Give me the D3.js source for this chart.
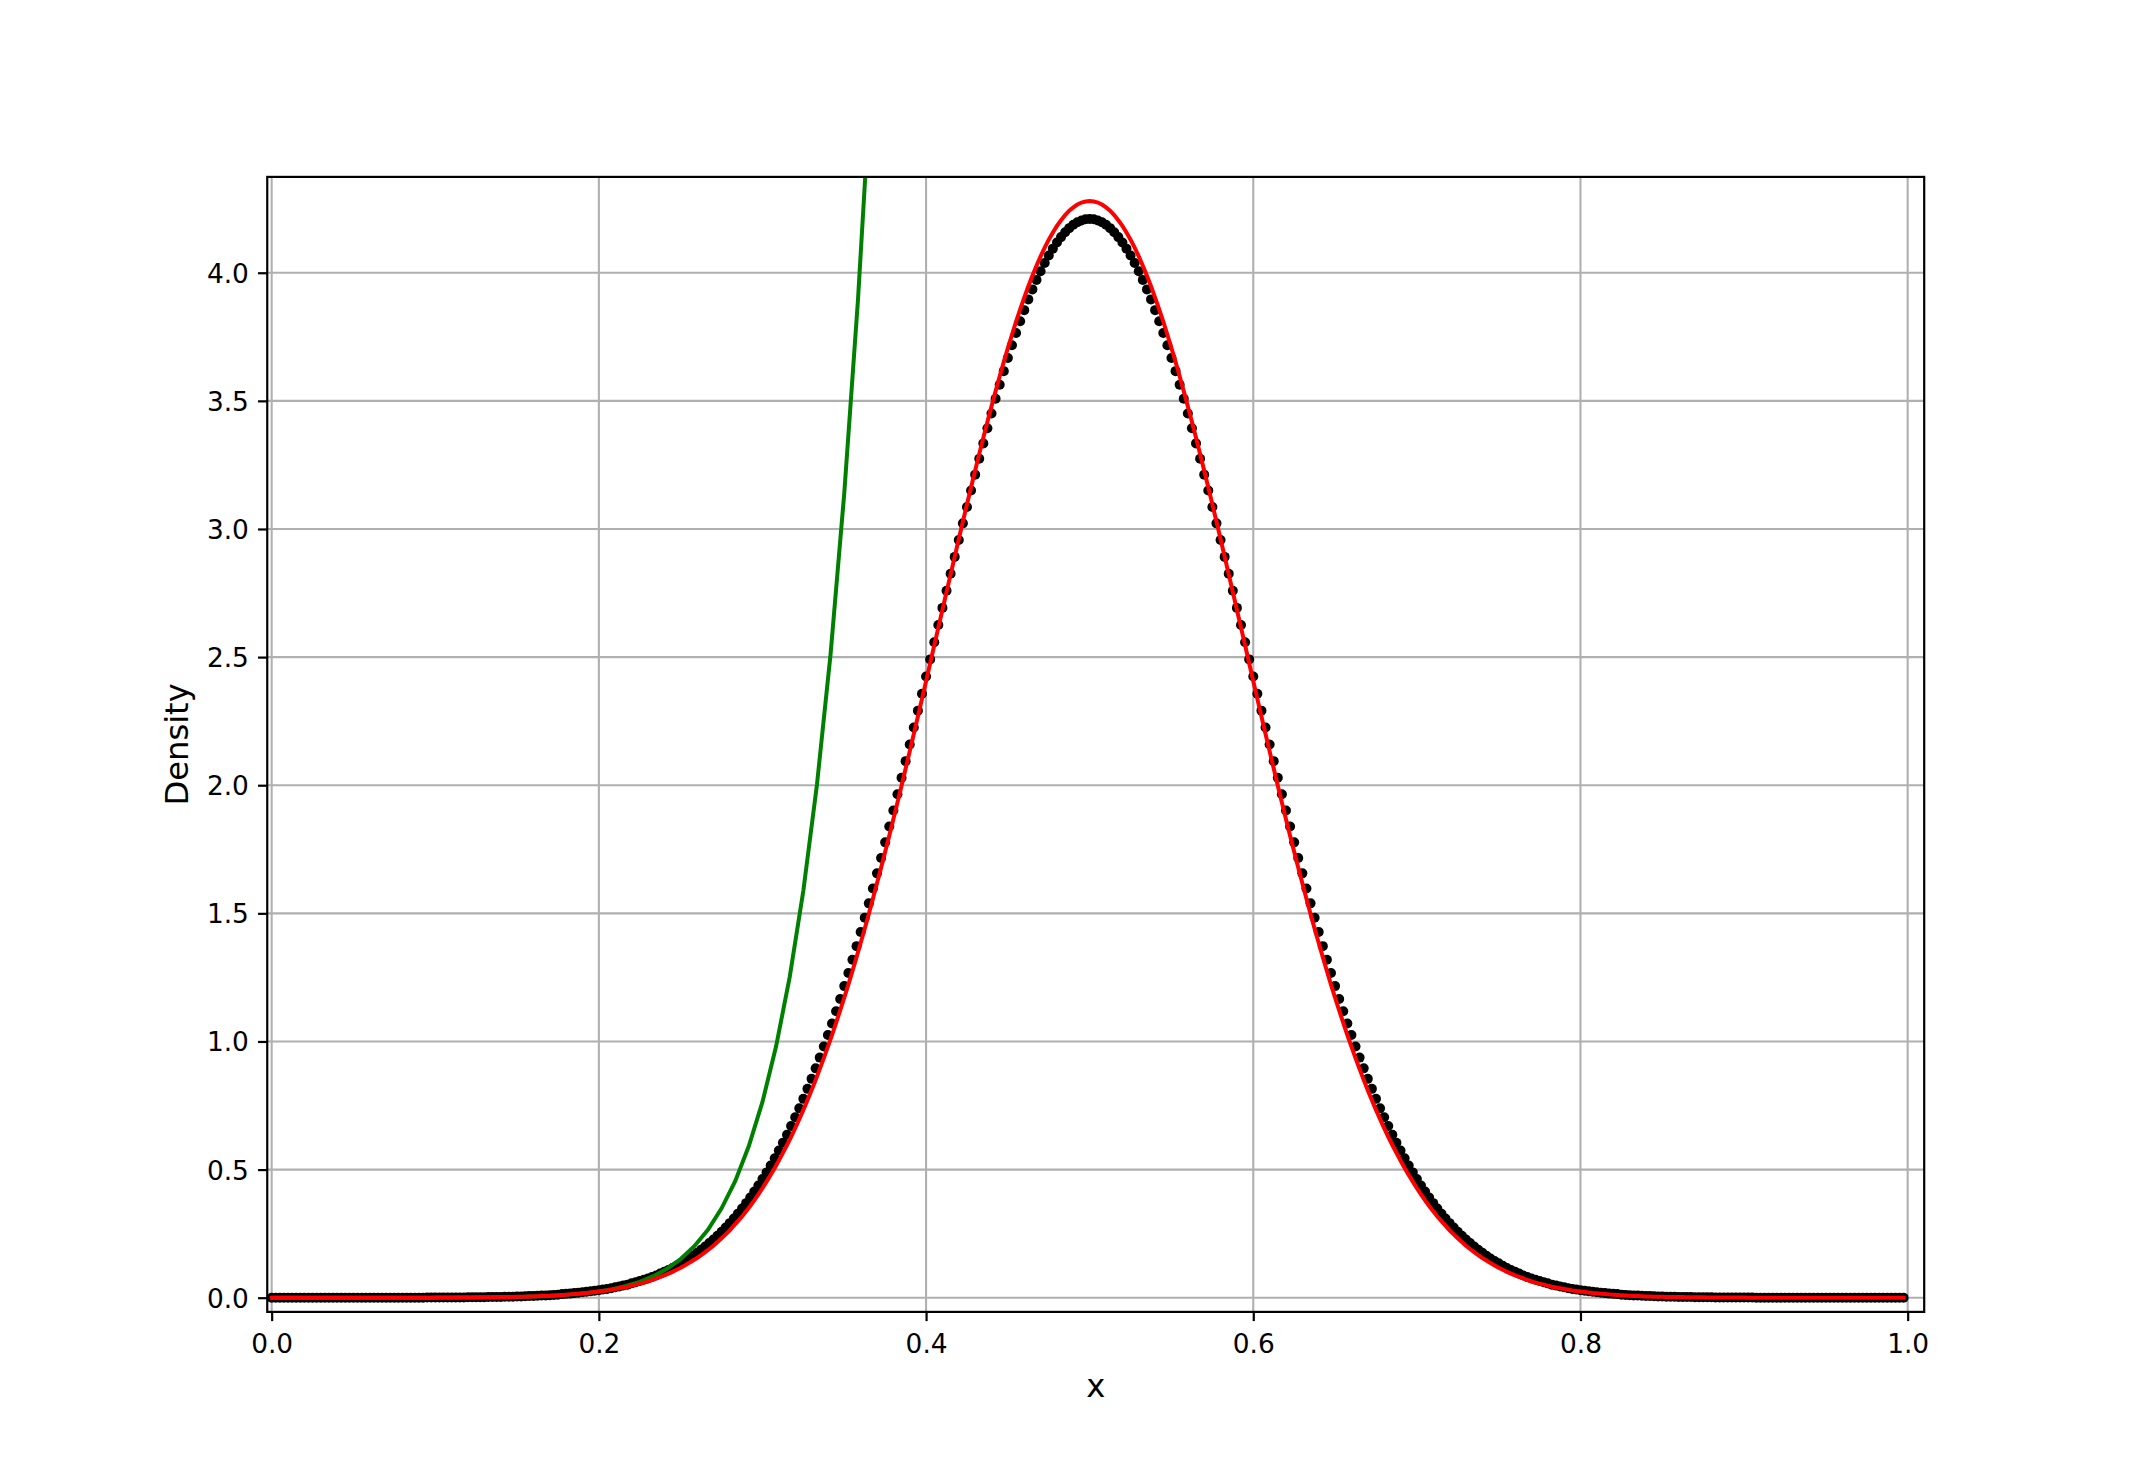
<!DOCTYPE html>
<html>
<head>
<meta charset="utf-8">
<script src="https://cdn.jsdelivr.net/npm/d3@7"></script>
<style>
  html, body { margin: 0; padding: 0; background: #fff; }
  svg { display: block; font-family: "DejaVu Sans", sans-serif; }
</style>
</head>
<body>
<svg id="chart"></svg>
<script>
// sample grid of the dots / red curve: x = i * sampleStep
const sampleStep = 0.0025

// black dots (density)
const blackDensity = [
  0, 0, 0, 0, 0, 0, 0, 0, 0, 0,
  0, 0, 0, 0, 0, 0, 0, 0, 0, 0,
  0, 0, 0, 0, 0, 0, 0, 0, 0, 0,
  0, 0, 0, 0, 0, 0, 0, 0,
  0.001, 0.001, 0.001, 0.001, 0.001, 0.001, 0.001, 0.001, 0.001, 0.001,
  0.002, 0.002, 0.002, 0.002, 0.002, 0.003, 0.003, 0.003, 0.003, 0.004, 0.004, 0.004,
  0.005, 0.005, 0.006, 0.007, 0.007, 0.008, 0.009, 0.009, 0.010, 0.011,
  0.012, 0.014, 0.015, 0.016, 0.018, 0.019, 0.021, 0.023, 0.025, 0.027,
  0.029, 0.032, 0.034, 0.037, 0.041, 0.044, 0.048, 0.051, 0.056, 0.060,
  0.065, 0.070, 0.075, 0.081, 0.087, 0.094, 0.101, 0.108, 0.116, 0.125,
  0.134, 0.143, 0.153, 0.164, 0.175, 0.187, 0.200, 0.213, 0.227, 0.242,
  0.257, 0.274, 0.291, 0.309, 0.328, 0.348, 0.369, 0.391, 0.414, 0.438,
  0.463, 0.489, 0.516, 0.544, 0.574, 0.605, 0.636, 0.670, 0.704, 0.739,
  0.776, 0.815, 0.854, 0.895, 0.937, 0.980, 1.025, 1.070, 1.118, 1.166,
  1.216, 1.267, 1.319, 1.372, 1.427, 1.483, 1.539, 1.597, 1.656, 1.716,
  1.777, 1.839, 1.901, 1.965, 2.029, 2.094, 2.159, 2.225, 2.291, 2.357,
  2.424, 2.491, 2.558, 2.625, 2.692, 2.759, 2.825, 2.891, 2.957, 3.022,
  3.086, 3.150, 3.212, 3.274, 3.334, 3.393, 3.451, 3.508, 3.563, 3.616,
  3.667, 3.717, 3.765, 3.811, 3.854, 3.896, 3.935, 3.972, 4.006, 4.038,
  4.067, 4.094, 4.118, 4.139, 4.158, 4.174, 4.187, 4.197, 4.204, 4.209,
  4.210,
  4.209, 4.204, 4.197, 4.187, 4.174, 4.158, 4.139, 4.118, 4.094, 4.067,
  4.038, 4.006, 3.972, 3.935, 3.896, 3.854, 3.811, 3.765, 3.717, 3.667,
  3.616, 3.563, 3.508, 3.451, 3.393, 3.334, 3.274, 3.212, 3.150, 3.086,
  3.022, 2.957, 2.891, 2.825, 2.759, 2.692, 2.625, 2.558, 2.491, 2.424,
  2.357, 2.291, 2.225, 2.159, 2.094, 2.029, 1.965, 1.901, 1.839, 1.777,
  1.716, 1.656, 1.597, 1.539, 1.483, 1.427, 1.372, 1.319, 1.267, 1.216,
  1.166, 1.118, 1.070, 1.025, 0.980, 0.937, 0.895, 0.854, 0.815, 0.776,
  0.739, 0.704, 0.670, 0.636, 0.605, 0.574, 0.544, 0.516, 0.489, 0.463,
  0.438, 0.414, 0.391, 0.369, 0.348, 0.328, 0.309, 0.291, 0.274, 0.257,
  0.242, 0.227, 0.213, 0.200, 0.187, 0.175, 0.164, 0.153, 0.143, 0.134,
  0.125, 0.116, 0.108, 0.101, 0.094, 0.087, 0.081, 0.075, 0.070, 0.065,
  0.060, 0.056, 0.051, 0.048, 0.044, 0.041, 0.037, 0.034, 0.032, 0.029,
  0.027, 0.025, 0.023, 0.021, 0.019, 0.018, 0.016, 0.015, 0.014, 0.012,
  0.011, 0.010, 0.009, 0.009, 0.008, 0.007, 0.007, 0.006, 0.005, 0.005,
  0.004, 0.004, 0.004, 0.003, 0.003, 0.003, 0.003, 0.002, 0.002, 0.002, 0.002, 0.002,
  0.001, 0.001, 0.001, 0.001, 0.001, 0.001, 0.001, 0.001, 0.001, 0.001,
  0, 0, 0, 0, 0, 0, 0, 0, 0, 0,
  0, 0, 0, 0, 0, 0, 0, 0, 0, 0,
  0, 0, 0, 0, 0, 0, 0, 0, 0, 0,
  0, 0, 0, 0, 0, 0, 0
]

// red curve, same grid
const redDensity = [
  0, 0, 0, 0, 0, 0, 0, 0, 0, 0,
  0, 0, 0, 0, 0, 0, 0, 0, 0, 0,
  0, 0, 0, 0, 0, 0, 0, 0, 0, 0,
  0, 0, 0, 0, 0, 0, 0, 0, 0, 0,
  0.001, 0.001, 0.001, 0.001, 0.001, 0.001, 0.001, 0.001, 0.001, 0.001,
  0.002, 0.002, 0.002, 0.002, 0.002, 0.003, 0.003, 0.003, 0.003, 0.003,
  0.004, 0.004, 0.004, 0.005, 0.005, 0.006, 0.007, 0.007, 0.008, 0.009,
  0.010, 0.011, 0.012, 0.013, 0.014, 0.015, 0.017, 0.018, 0.020, 0.022,
  0.024, 0.026, 0.028, 0.031, 0.034, 0.037, 0.040, 0.043, 0.047, 0.051,
  0.055, 0.059, 0.064, 0.069, 0.075, 0.081, 0.087, 0.094, 0.101, 0.109,
  0.117, 0.126, 0.135, 0.145, 0.155, 0.166, 0.178, 0.190, 0.203, 0.217,
  0.232, 0.247, 0.263, 0.281, 0.299, 0.317, 0.337, 0.358, 0.380, 0.403,
  0.427, 0.453, 0.479, 0.506, 0.535, 0.565, 0.596, 0.628, 0.662, 0.697,
  0.733, 0.771, 0.810, 0.850, 0.892, 0.935, 0.980, 1.025, 1.073, 1.121,
  1.171, 1.222, 1.275, 1.329, 1.384, 1.440, 1.498, 1.557, 1.617, 1.678,
  1.740, 1.803, 1.867, 1.932, 1.998, 2.065, 2.132, 2.200, 2.268, 2.337,
  2.406, 2.476, 2.546, 2.615, 2.685, 2.754, 2.823, 2.892, 2.961, 3.029,
  3.096, 3.163, 3.228, 3.293, 3.356, 3.418, 3.479, 3.538, 3.596, 3.652,
  3.706, 3.758, 3.809, 3.857, 3.903, 3.947, 3.988, 4.027, 4.064, 4.098,
  4.129, 4.157, 4.183, 4.205, 4.225, 4.242, 4.255, 4.266, 4.274, 4.278,
  4.280,
  4.278, 4.274, 4.266, 4.255, 4.242, 4.225, 4.205, 4.183, 4.157, 4.129,
  4.098, 4.064, 4.027, 3.988, 3.947, 3.903, 3.857, 3.809, 3.758, 3.706,
  3.652, 3.596, 3.538, 3.479, 3.418, 3.356, 3.293, 3.228, 3.163, 3.096,
  3.029, 2.961, 2.892, 2.823, 2.754, 2.685, 2.615, 2.546, 2.476, 2.406,
  2.337, 2.268, 2.200, 2.132, 2.065, 1.998, 1.932, 1.867, 1.803, 1.740,
  1.678, 1.617, 1.557, 1.498, 1.440, 1.384, 1.329, 1.275, 1.222, 1.171,
  1.121, 1.073, 1.025, 0.980, 0.935, 0.892, 0.850, 0.810, 0.771, 0.733,
  0.697, 0.662, 0.628, 0.596, 0.565, 0.535, 0.506, 0.479, 0.453, 0.427,
  0.403, 0.380, 0.358, 0.337, 0.317, 0.299, 0.281, 0.263, 0.247, 0.232,
  0.217, 0.203, 0.190, 0.178, 0.166, 0.155, 0.145, 0.135, 0.126, 0.117,
  0.109, 0.101, 0.094, 0.087, 0.081, 0.075, 0.069, 0.064, 0.059, 0.055,
  0.051, 0.047, 0.043, 0.040, 0.037, 0.034, 0.031, 0.028, 0.026, 0.024,
  0.022, 0.020, 0.018, 0.017, 0.015, 0.014, 0.013, 0.012, 0.011, 0.010,
  0.009, 0.008, 0.007, 0.007, 0.006, 0.005, 0.005, 0.004, 0.004, 0.004,
  0.003, 0.003, 0.003, 0.003, 0.003, 0.002, 0.002, 0.002, 0.002, 0.002,
  0.001, 0.001, 0.001, 0.001, 0.001, 0.001, 0.001, 0.001, 0.001, 0.001,
  0, 0, 0, 0, 0, 0, 0, 0, 0, 0,
  0, 0, 0, 0, 0, 0, 0, 0, 0, 0,
  0, 0, 0, 0, 0, 0, 0, 0, 0, 0,
  0, 0, 0, 0, 0, 0, 0, 0, 0
]

// green curve, coarser grid: x = i * greenStep (runs off the top)
const greenStep = 1 / 120
const greenDensity = [
  0, 0, 0, 0, 0, 0, 0, 0, 0, 0,
  0, 0, 0, 0, 0.001, 0.001, 0.002, 0.002, 0.003, 0.005,
  0.006, 0.009, 0.013, 0.017, 0.024, 0.033, 0.046, 0.062, 0.084, 0.113,
  0.151, 0.201, 0.265, 0.349, 0.455, 0.592, 0.764, 0.981, 1.252, 1.589,
  2.004, 2.514, 3.140, 3.890, 4.790
]

const xTicks = [0, 0.2, 0.4, 0.6, 0.8, 1.0]
const yTicks = [0, 0.5, 1.0, 1.5, 2.0, 2.5, 3.0, 3.5, 4.0]
const xLabel = "x"
const yLabel = "Density"

const dimensions = {
  width: 2138,
  height: 1474,
  margin: { left: 267.25, right: 213.8, top: 176.9, bottom: 162.1 },
}

const drawChart = () => {
  const { width, height, margin } = dimensions
  const innerW = width - margin.left - margin.right
  const innerH = height - margin.top - margin.bottom

  const svg = d3.select("#chart").attr("width", width).attr("height", height)

  const x = d3.scaleLinear().domain([-0.0027, 1.0101]).range([margin.left, margin.left + innerW])
  const y = d3.scaleLinear().domain([-0.0554, 4.374]).range([margin.top + innerH, margin.top])

  svg.append("defs").append("clipPath").attr("id", "plot-clip")
    .append("rect")
    .attr("x", margin.left).attr("y", margin.top)
    .attr("width", innerW).attr("height", innerH)

  // grid
  const grid = svg.append("g").attr("stroke", "#b0b0b0").attr("stroke-width", 2.1)
  grid.selectAll(".gx").data(xTicks).join("line")
    .attr("x1", (d) => x(d)).attr("x2", (d) => x(d))
    .attr("y1", margin.top).attr("y2", margin.top + innerH)
  grid.selectAll(".gy").data(yTicks).join("line")
    .attr("class", "gy")
    .attr("y1", (d) => y(d)).attr("y2", (d) => y(d))
    .attr("x1", margin.left).attr("x2", margin.left + innerW)

  const plot = svg.append("g").attr("clip-path", "url(#plot-clip)")

  const samples = blackDensity.map((v, i) => ({ x: i * sampleStep, y: v }))
  plot.append("g").selectAll("circle").data(samples).join("circle")
    .attr("cx", (d) => x(d.x)).attr("cy", (d) => y(d.y))
    .attr("r", 5).attr("fill", "#000")

  const line = d3.line().x((d) => x(d.x)).y((d) => y(d.y))

  plot.append("path")
    .datum(greenDensity.map((v, i) => ({ x: i * greenStep, y: v })))
    .attr("d", line).attr("fill", "none")
    .attr("stroke", "#008000").attr("stroke-width", 4)

  plot.append("path")
    .datum(redDensity.map((v, i) => ({ x: i * sampleStep, y: v })))
    .attr("d", line).attr("fill", "none")
    .attr("stroke", "#ff0000").attr("stroke-width", 4)
    .attr("stroke-linecap", "square")

  // frame
  svg.append("rect")
    .attr("x", margin.left).attr("y", margin.top)
    .attr("width", innerW).attr("height", innerH)
    .attr("fill", "none").attr("stroke", "#000").attr("stroke-width", 2.2)

  // axes
  const xAxis = svg.append("g")
    .attr("transform", `translate(0, ${margin.top + innerH})`)
    .call(d3.axisBottom(x).tickValues(xTicks).tickFormat(d3.format(".1f")).tickSize(9.2).tickPadding(9.2))
  const yAxis = svg.append("g")
    .attr("transform", `translate(${margin.left}, 0)`)
    .call(d3.axisLeft(y).tickValues(yTicks).tickFormat(d3.format(".1f")).tickSize(9.2).tickPadding(9.2))

  ;[xAxis, yAxis].forEach((g) => {
    g.select(".domain").remove()
    g.selectAll(".tick line").attr("stroke", "#000").attr("stroke-width", 2.2)
    g.selectAll(".tick text")
      .attr("fill", "#000")
      .attr("font-family", "DejaVu Sans, sans-serif")
      .attr("font-size", 26.4)
  })
  xAxis.selectAll(".tick text").attr("dy", null).attr("y", 41)
  yAxis.selectAll(".tick text").attr("dy", "0.36em")

  svg.append("text")
    .attr("x", margin.left + innerW / 2).attr("y", 1397)
    .attr("text-anchor", "middle")
    .attr("font-size", 32.2).attr("fill", "#000")
    .text(xLabel)

  svg.append("text")
    .attr("transform", `translate(188, ${margin.top + innerH / 2}) rotate(-90)`)
    .attr("text-anchor", "middle")
    .attr("font-size", 32.2).attr("fill", "#000")
    .text(yLabel)
}

drawChart()
</script>
</body>
</html>
